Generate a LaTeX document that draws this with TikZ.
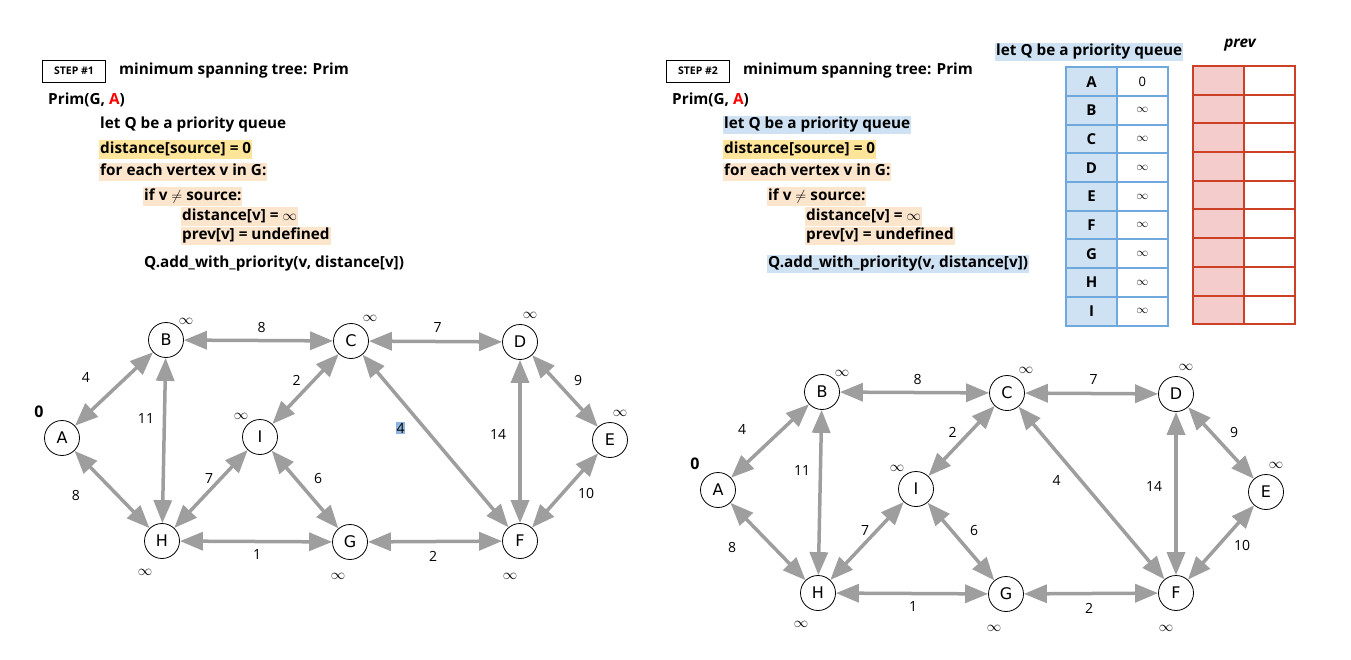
\documentclass[tikz,border=0pt]{standalone}
\usepackage{fontspec}
\setmainfont{Open Sans}
\newfontfamily\nodefont{DejaVu Sans}
\usetikzlibrary{positioning}
\usetikzlibrary{arrows.meta}
\definecolor{edgegray}{HTML}{9E9E9E}
\definecolor{hlyellow}{HTML}{FFE599}
\definecolor{hlpeach}{HTML}{FCE5CD}
\definecolor{qblue}{HTML}{CFE2F3}
\definecolor{qline}{HTML}{6FA8DC}
\definecolor{prevfill}{HTML}{F4CCCC}
\definecolor{prevline}{HTML}{CC4125}
\definecolor{selblue}{HTML}{8DB6DE}
\definecolor{srcred}{HTML}{FF0000}
\tikzset{
	x=1pt, y=-1pt,
	vertex/.style={circle, draw, line width=0.8pt, fill=white, minimum size=35pt, inner sep=0pt, font=\nodefont\fontsize{16}{16}\selectfont},
	wedge/.style={{Triangle[length=23pt,width=18pt]}-{Triangle[length=23pt,width=18pt]}, draw=edgegray, line width=3.5pt},
	wlabel/.style={inner sep=0.5pt, font=\fontsize{14}{14}\selectfont},
	selw/.style={wlabel, fill=selblue},
	dist/.style={inner sep=0pt, font=\fontsize{15}{15}\selectfont},
	code/.style={anchor=west, inner xsep=1pt, inner ysep=1.5pt, text height=11.5pt, text depth=3.7pt, font=\fontsize{15.3}{18}\selectfont\bfseries},
	stepbox/.style={draw, line width=0.8pt, minimum width=63pt, minimum height=22pt, inner sep=0pt, font=\fontsize{10.5}{10.5}\selectfont\bfseries},
	keycell/.style={draw=qline, line width=2pt, fill=qblue, minimum width=50.5pt, minimum height=28.7pt, inner sep=0pt, font=\fontsize{15}{15}\selectfont\bfseries},
	valcell/.style={keycell, fill=white, font=\fontsize{13}{13}\selectfont},
	prevkey/.style={draw=prevline, line width=2pt, fill=prevfill, minimum width=51pt, minimum height=28.7pt, inner sep=0pt},
	prevval/.style={prevkey, fill=white}
}

\begin{document}
\begin{tikzpicture}
	\useasboundingbox (0,0) rectangle (1351,660);
	
	% Two steps: code, then graph
	\foreach \s/\cx/\gx/\gy/\qfill/\wstyle in {1/0/0/0/none/selw, 2/624/656/52/qblue/wlabel} {
		\begin{scope}[shift={(\cx,0)}]
			\node (step\s) [stepbox] at (74,71) {STEP \#\s};
			\node (title\s) [code] at (118,71) {minimum spanning tree: Prim};
			\node (prim\s) [code] at (47,101) {Prim(G, \textcolor{srcred}{A})};
			\node (letq\s) [code, fill=\qfill] at (99,125) {let Q be a priority queue};
			\node (dsrc\s) [code, fill=hlyellow] at (99,149.5) {distance[source] = 0};
			\node (fore\s) [code, fill=hlpeach] at (99,172) {for each vertex v in G:};
			\node (ifv\s) [code, fill=hlpeach] at (143,196.5) {if v $\neq$ source:};
			\node (dv\s) [code, fill=hlpeach] at (181,216.5) {distance[v] = $\infty$};
			\node (pv\s) [code, fill=hlpeach] at (181,236) {prev[v] = undefined};
			\node (qadd\s) [code, fill=\qfill] at (143,264) {Q.add\_with\_priority(v, distance[v])};
		\end{scope}
		
		\begin{scope}[shift={(\gx,\gy)}]
			\node (A\s) [vertex] at (62,438) {A};
			\node (B\s) [vertex] at (166,340) {B};
			\node (C\s) [vertex] at (351,341) {C};
			\node (D\s) [vertex] at (520,342) {D};
			\node (E\s) [vertex] at (610,440) {E};
			\node (F\s) [vertex] at (520,541) {F};
			\node (G\s) [vertex] at (350,542) {G};
			\node (H\s) [vertex] at (162,541) {H};
			\node (I\s) [vertex] at (260,437) {I};
			
			\node (dA\s) [dist, font=\fontsize{16}{16}\selectfont\bfseries] at (39,412) {0};
			\node (dB\s) [dist] at (186,321) {$\infty$};
			\node (dC\s) [dist] at (370,318) {$\infty$};
			\node (dD\s) [dist] at (530,315) {$\infty$};
			\node (dE\s) [dist] at (620,413) {$\infty$};
			\node (dI\s) [dist] at (241,416) {$\infty$};
			\node (dH\s) [dist] at (145,572) {$\infty$};
			\node (dG\s) [dist] at (338,576) {$\infty$};
			\node (dF\s) [dist] at (510,576) {$\infty$};
			
			\path (A\s) edge[wedge] node[wlabel, xshift=-28pt, yshift=12pt] {4} (B\s);
			\path (B\s) edge[wedge] node[wlabel, xshift=3pt, yshift=13pt] {8} (C\s);
			\path (C\s) edge[wedge] node[wlabel, xshift=2pt, yshift=14pt] {7} (D\s);
			\path (A\s) edge[wedge] node[wlabel, xshift=-36pt, yshift=-6pt] {8} (H\s);
			\path (B\s) edge[wedge] node[wlabel, xshift=-18pt, yshift=22pt] {11} (H\s);
			\path (I\s) edge[wedge] node[wlabel, xshift=-9pt, yshift=9pt] {2} (C\s);
			\path (C\s) edge[wedge] node[\wstyle, xshift=-35pt, yshift=13pt] {4} (F\s);
			\path (D\s) edge[wedge] node[wlabel, xshift=-22pt, yshift=7pt] {14} (F\s);
			\path (D\s) edge[wedge] node[wlabel, xshift=13pt, yshift=11pt] {9} (E\s);
			\path (F\s) edge[wedge] node[wlabel, xshift=21pt, yshift=-3pt] {10} (E\s);
			\path (H\s) edge[wedge] node[wlabel, xshift=-2pt, yshift=11pt] {7} (I\s);
			\path (I\s) edge[wedge] node[wlabel, xshift=13pt, yshift=11pt] {6} (G\s);
			\path (H\s) edge[wedge] node[wlabel, xshift=1pt, yshift=-13pt] {1} (G\s);
			\path (G\s) edge[wedge] node[wlabel, xshift=-2pt, yshift=-15pt] {2} (F\s);
		\end{scope}
	}
	
	% Queue and prev tables
	\node (qhead) [code, fill=qblue] at (995,52) {let Q be a priority queue};
	\node (prevhead) [font=\fontsize{15.3}{18}\selectfont\bfseries\itshape] at (1240,45) {prev};
	\foreach \k/\v [count=\i] in {A/0, B/$\infty$, C/$\infty$, D/$\infty$, E/$\infty$, F/$\infty$, G/$\infty$, H/$\infty$, I/$\infty$} {
		\node (key\i) [keycell] at (1091.5, {67.3+28.7*(\i-0.5)}) {\k};
		\node (val\i) [valcell] at (1142.3, {67.3+28.7*(\i-0.5)}) {\v};
		\node (prv\i) [prevkey] at (1218.5, {66+28.7*(\i-0.5)}) {};
		\node (prvv\i) [prevval] at (1269.5, {66+28.7*(\i-0.5)}) {};
	}
\end{tikzpicture}
\end{document}
